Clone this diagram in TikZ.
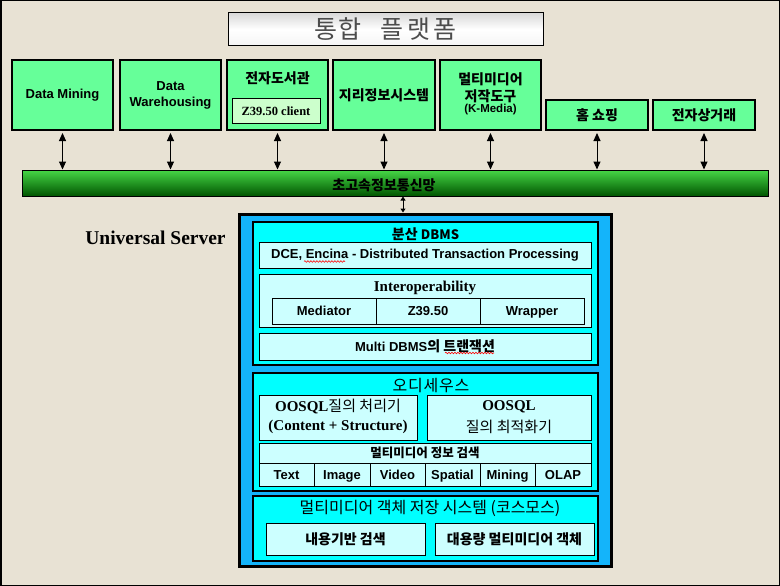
\documentclass[tikz,border=0pt]{standalone}
\usepackage{fontspec}
\setmainfont{Liberation Sans}
\newfontfamily\kr{Noto Sans CJK KR}
\newfontfamily\serif{Liberation Serif}
\usetikzlibrary{arrows.meta,decorations.pathmorphing}
\definecolor{bg}{RGB}{232,226,212}
\definecolor{boxgreen}{RGB}{102,255,153}
\definecolor{lightgreen}{RGB}{204,255,204}
\definecolor{skyb}{RGB}{20,180,250}
\definecolor{cyanp}{RGB}{0,255,255}
\definecolor{lcyan}{RGB}{204,255,255}
\newcommand\tb{\fontsize{13}{16}\selectfont\bfseries}
\newcommand\ktb{\kr\fontsize{14}{17}\selectfont\bfseries}
\tikzset{
  gbox/.style={draw=black, line width=2pt, fill=boxgreen, inner sep=0pt, align=center},
  panel/.style={draw=black, line width=2pt, fill=cyanp, inner sep=0pt},
  ibox/.style={draw=black, line width=1pt, fill=lcyan, inner sep=0pt, align=center},
  cell/.style={ibox, text height=9.5pt, text depth=0pt},
  dbl/.style={line width=1pt, {Triangle[width=7pt,length=8pt]}-{Triangle[width=7pt,length=8pt]}},
  squig/.style={red, line width=0.6pt, decorate, decoration={snake, amplitude=0.8pt, segment length=3pt}},
  txt/.style={inner sep=0pt, align=center}
}
\begin{document}
\begin{tikzpicture}[x=1pt,y=-1pt]
\useasboundingbox (0,0) rectangle (780,586);
\fill[bg] (0,0) rectangle (780,586);
\draw[line width=1.5pt] (0.75,0.75) rectangle (779.25,585.25);

% title
\node[draw=black, line width=1pt, top color=gray!30, bottom color=gray!8, middle color=white,
      minimum width=315pt, minimum height=33pt, inner sep=0pt, text=black!70]
  (title) at (385.5,29.5) {\kr\fontsize{25}{27}\selectfont 통\hspace{0.05em}합\hspace{0.75em}플\hspace{0.14em}랫\hspace{0.14em}폼};

% top boxes
\node[gbox, minimum width=101pt, minimum height=70pt, font=\tb] (dm) at (62.5,95) {Data Mining};
\node[gbox, minimum width=101pt, minimum height=70pt, font=\tb] (dw) at (170.5,95) {Data\\Warehousing};
\node[gbox, minimum width=101pt, minimum height=70pt] (dl) at (277.5,95) {};
\node[txt] (dlt) at (277.5,78) {\ktb 전자도서관};
\node[draw=black, line width=1pt, fill=lightgreen, minimum width=88pt, minimum height=25pt, inner sep=0pt]
  (z39c) at (276,111.5) {\serif\fontsize{12.5}{14}\selectfont\bfseries Z39.50 client};
\node[gbox, minimum width=102pt, minimum height=70pt] (gis) at (384,95) {\ktb 지리정보시스템};
\node[gbox, minimum width=101pt, minimum height=70pt] (mm) at (490.5,95) {};
\node[txt] (mmt1) at (490.5,79) {\ktb 멀티미디어};
\node[txt] (mmt2) at (490.5,96.5) {\ktb 저작도구};
\node[txt] (mmt3) at (490.5,110) {\fontsize{11.5}{13}\selectfont\bfseries (K-Media)};
\node[gbox, minimum width=102pt, minimum height=30pt] (hs) at (597,115) {\ktb 홈 쇼핑};
\node[gbox, minimum width=102pt, minimum height=30pt] (ec) at (704,115) {\ktb 전자상거래};

% bar
\node[draw=black, line width=1pt, inner sep=0pt, minimum width=746pt, minimum height=26pt,
      top color={rgb,255:red,70;green,215;blue,70}, middle color={rgb,255:red,0;green,165;blue,0},
      bottom color={rgb,255:red,0;green,85;blue,0}] (bar) at (395,183) {};
\node[txt] (bart) at (384,185) {\ktb 초고속정보통신망};

\foreach \n in {dm,dw,dl,gis,mm,hs,ec}{
  \draw[dbl] ([yshift=-2pt]\n.south) -- (\n.south |- bar.north);
}

% universal server
\node[txt] (uslabel) at (155.5,238) {\serif\fontsize{19.5}{21}\selectfont\bfseries Universal Server};
\node[draw=black, line width=3pt, fill=skyb, minimum width=372pt, minimum height=352pt, inner sep=0pt]
  (srv) at (425,390) {};
\draw[line width=1pt, {Triangle[width=5pt,length=4pt]}-{Triangle[width=5pt,length=4pt]}]
  (bar.south -| 403,0) -- (srv.north -| 403,0);

% panel 1
\node[panel, minimum width=345pt, minimum height=143pt] (p1) at (425.5,293.5) {};
\node[txt] (p1t) at (425.5,234) {\ktb 분산 \tb DBMS};
\node[ibox, minimum width=332pt, minimum height=26pt] (dce) at (425,255) {\tb DCE, Encina - Distributed Transaction Processing};
\draw[squig] (304,261.5) -- (345,261.5);
\node[ibox, minimum width=332pt, minimum height=53pt] (iop) at (425,300.5) {};
\node[txt] (iopt) at (425,288) {\serif\fontsize{15}{17}\selectfont\bfseries Interoperability};
\node[cell, minimum width=104pt, minimum height=26pt] (med) at (324,311) {\tb Mediator};
\node[cell, minimum width=104pt, minimum height=26pt] (z39) at (428,311) {\tb Z39.50};
\node[cell, minimum width=104pt, minimum height=26pt] (wrp) at (532,311) {\tb Wrapper};
\node[ibox, minimum width=332pt, minimum height=27pt] (mdb) at (425,346.5) {\tb Multi DBMS{\ktb 의 트랜잭션}};
\draw[squig] (445,353) -- (494,353);

% panel 2
\node[panel, minimum width=345pt, minimum height=118pt] (p2) at (425.5,432) {};
\node[txt] (p2t) at (431,386) {\kr\fontsize{16}{18}\selectfont 오\hspace{0.05em}디\hspace{0.05em}세\hspace{0.05em}우\hspace{0.05em}스};
\node[ibox, minimum width=158pt, minimum height=45pt] (oq1) at (338,417.5) {};
\node[txt] (oq1a) at (338,407) {{\serif\fontsize{15}{17}\selectfont\bfseries OOSQL}{\kr\fontsize{15}{17}\selectfont 질의 처리기}};
\node[txt] (oq1b) at (338,427) {\serif\fontsize{15}{17}\selectfont\bfseries (Content + Structure)};
\node[ibox, minimum width=164pt, minimum height=45pt] (oq2) at (509,417.5) {};
\node[txt] (oq2a) at (509,407) {\serif\fontsize{15}{17}\selectfont\bfseries OOSQL};
\node[txt] (oq2b) at (509,427) {\kr\fontsize{15}{17}\selectfont 질의 최적화기};
\node[ibox, minimum width=332pt, minimum height=20pt] (mmr) at (425,453) {\kr\fontsize{12.5}{14}\selectfont\bfseries 멀티미디어 정보 검색};
\node[cell, minimum width=55pt, minimum height=23pt] (c1) at (286.5,474.5) {\tb Text};
\node[cell, minimum width=56pt, minimum height=23pt] (c2) at (342,474.5) {\tb Image};
\node[cell, minimum width=55pt, minimum height=23pt] (c3) at (397.5,474.5) {\tb Video};
\node[cell, minimum width=55pt, minimum height=23pt] (c4) at (452.5,474.5) {\tb Spatial};
\node[cell, minimum width=55pt, minimum height=23pt] (c5) at (507.5,474.5) {\tb Mining};
\node[cell, minimum width=56pt, minimum height=23pt] (c6) at (563,474.5) {\tb OLAP};

% panel 3
\node[panel, minimum width=345pt, minimum height=65pt] (p3) at (425.5,528.5) {};
\node[txt] (p3t) at (430,508) {\kr\fontsize{16}{18}\selectfont 멀티미디어 객체 저장 시스템 (코스모스)};
\node[ibox, minimum width=159pt, minimum height=32pt] (cbr) at (345.5,539.5) {\ktb 내용기반 검색};
\node[ibox, minimum width=159pt, minimum height=32pt] (lmo) at (514.5,539.5) {\ktb 대용량 멀티미디어 객체};
\end{tikzpicture}
\end{document}
